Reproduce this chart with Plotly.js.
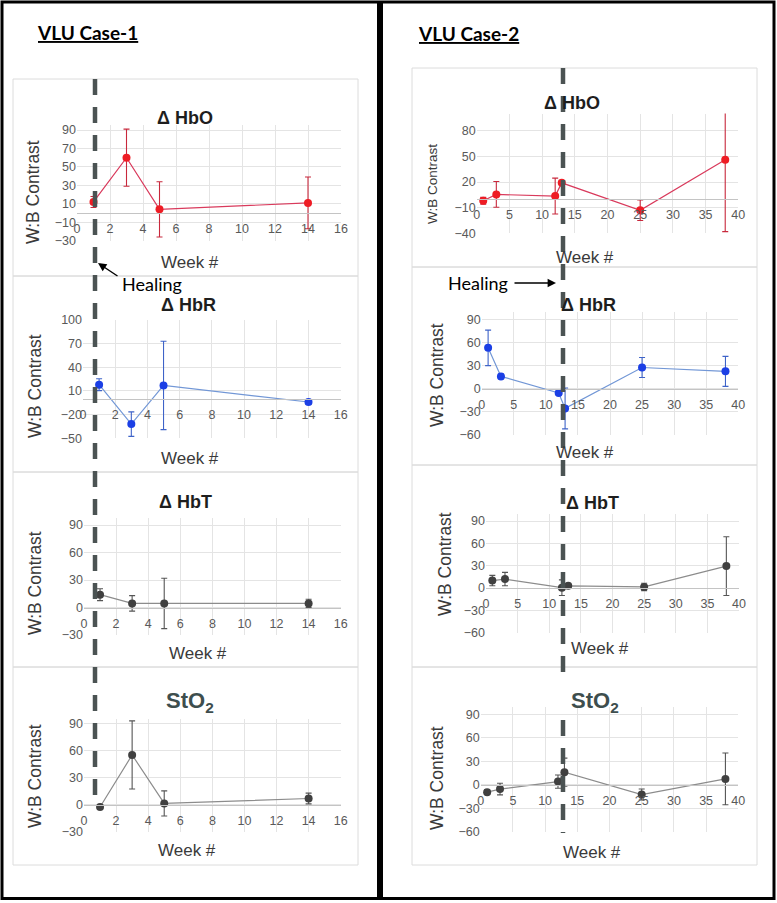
<!DOCTYPE html>
<html>
<head>
<meta charset="utf-8">
<script src="https://cdn.plot.ly/plotly-3.0.1.min.js"></script>
<style>body{margin:0;background:#fff}</style>
</head>
<body>
<div id="plot" style="width:777px;height:903px"></div>
<script>
// VLU case 1 - weeks and W:B contrast (mean, error)
var case1Weeks = [1, 3, 5, 14];
var case1HbO = [12, 60, 4, 11];
var case1HbOErr = [6, 31, 30, 28];
var case1HbR = [18, -32, 17, -4];
var case1HbRErr = [7.5, 15.5, 56, 3];
var case1HbT = [14, 4.5, 4.5, 4.5];
var case1HbTErr = [6.5, 8.5, 27.5, 4.5];
var case1StO2 = [-2.5, 55.5, 1.5, 7];
var case1StO2Err = [0, 38, 14, 6];

// VLU case 2
var case2Weeks = [1, 3, 12, 13, 25, 38];
var case2HbO = [-2, 5.5, 3.5, 19, -13, 46];
var case2HbOErr = [4, 15, 21, 0, 12, 84];
var case2HbR = [53, 16, -5.5, -25.5, 27.5, 22.5];
var case2HbRErr = [23, 3, 0, 26.5, 13, 19.5];
var case2HbT = [10, 12, 0.5, 3, 1.5, 29.5];
var case2HbTErr = [7, 9, 10.5, 0, 5, 39.5];
var case2StO2 = [-9.5, -5.5, 4, 16, -12.5, 7.5];
var case2StO2Err = [3, 7.5, 8.5, 18, 7, 33];

var W = 777, H = 903;
function fx(p) { return p / W; }
function fy(p) { return 1 - p / H; }

var red = {line: '#d93a5c', mark: '#ee1c24', err: '#c8283c'};
var blue = {line: '#7297d6', mark: '#1b3fe5', err: '#3e63c8'};
var grey = {line: '#8c8c8c', mark: '#404040', err: '#555555'};

// plot-area pixels for each panel: x left/right, y bottom/top (at y range ends)
var panels = [
  {wk: case1Weeks, y: case1HbO, e: case1HbOErr, c: red, xp: [77, 341], yp: [240.7, 124.5], xr: [0, 16], yr: [-30, 96], dx: 2, t0: -30, dy: 20,
   title: '<b>\u0394 HbO</b>', tpos: [185, 118], week: [190, 262], ylab: [33, 192], ysz: 17.5},
  {wk: case1Weeks, y: case1HbR, e: case1HbRErr, c: blue, xp: [83, 340.7], yp: [438.3, 320], xr: [0, 16], yr: [-50, 100], dx: 2, t0: -50, dy: 30,
   title: '<b>\u0394 HbR</b>', tpos: [188, 305], week: [190, 458], ylab: [35, 386], ysz: 17.5},
  {wk: case1Weeks, y: case1HbT, e: case1HbTErr, c: grey, xp: [84, 340.7], yp: [635, 517.7], xr: [0, 16], yr: [-30, 98], dx: 2, t0: -30, dy: 30,
   title: '<b>\u0394 HbT</b>', tpos: [185, 502], week: [198, 653], ylab: [35, 583], ysz: 17.5},
  {wk: case1Weeks, y: case1StO2, e: case1StO2Err, c: grey, xp: [84, 340.7], yp: [831.7, 718.6], xr: [0, 16], yr: [-30, 96], dx: 2, t0: -30, dy: 30,
   title: '<b>StO<sub>2</sub></b>', tpos: [190, 702], week: [187, 850], ylab: [35, 776], ysz: 17.5},
  {wk: case2Weeks, y: case2HbO, e: case2HbOErr, c: red, xp: [476.7, 738.3], yp: [233.3, 113.6], xr: [0, 40], yr: [-40, 100], dx: 5, t0: -40, dy: 30,
   title: '<b>\u0394 HbO</b>', tpos: [572, 103], week: [585, 257], ylab: [433, 184], ysz: 13.5},
  {wk: case2Weeks, y: case2HbR, e: case2HbRErr, c: blue, xp: [481.7, 738.3], yp: [435, 311.6], xr: [0, 40], yr: [-60, 100], dx: 5, t0: -60, dy: 30,
   title: '<b>\u0394 HbR</b>', tpos: [588, 305], week: [585, 453], ylab: [437, 375], ysz: 17.5},
  {wk: case2Weeks, y: case2HbT, e: case2HbTErr, c: grey, xp: [486, 739], yp: [632.7, 513.6], xr: [0, 40], yr: [-60, 100], dx: 5, t0: -60, dy: 30,
   title: '<b>\u0394 HbT</b>', tpos: [592, 503], week: [600, 648], ylab: [445, 564], ysz: 17.5},
  {wk: case2Weeks, y: case2StO2, e: case2StO2Err, c: grey, xp: [480.7, 738.3], yp: [831.7, 706.5], xr: [0, 40], yr: [-60, 100], dx: 5, t0: -60, dy: 30,
   title: '<b>StO<sub>2</sub></b>', tpos: [595, 702], week: [592, 852], ylab: [437, 778], ysz: 17.5}
];

var tickFont = {family: 'Liberation Sans, Arial, sans-serif', size: 12.5, color: '#595959'};
var labFont = {family: 'Liberation Sans, Arial, sans-serif', color: '#3a3a3a'};

var data = [];
var layout = {
  width: W, height: H,
  margin: {l: 0, r: 0, t: 0, b: 0},
  paper_bgcolor: '#fff', plot_bgcolor: 'rgba(0,0,0,0)',
  showlegend: false,
  shapes: [], annotations: []
};

var panelBoxes = [[13, 358, 79, 276], [13, 358, 276, 472], [13, 358, 472, 667], [13, 358, 667, 865],
                  [412, 757, 68, 267], [412, 757, 267, 465], [412, 757, 465, 667], [412, 757, 667, 865]];
panelBoxes.forEach(function (b) {
  layout.shapes.push({type: 'rect', xref: 'paper', yref: 'paper', layer: 'below',
    x0: fx(b[0]), x1: fx(b[1]), y0: fy(b[2]), y1: fy(b[3]),
    line: {color: '#dcdcdc', width: 1}});
});

panels.forEach(function (p, i) {
  var n = i === 0 ? '' : String(i + 1);
  var yd = [fy(p.yp[0]), fy(p.yp[1])];
  var zeroPos = yd[0] + (0 - p.yr[0]) / (p.yr[1] - p.yr[0]) * (yd[1] - yd[0]);
  data.push({
    x: p.wk, y: p.y, xaxis: 'x' + n, yaxis: 'y' + n,
    type: 'scatter', mode: 'lines+markers',
    line: {color: p.c.line, width: 1.2},
    marker: {color: p.c.mark, size: 8},
    error_y: {type: 'data', array: p.e, visible: true, color: p.c.err, thickness: 1.1, width: 3}
  });
  layout['xaxis' + n] = {
    domain: [fx(p.xp[0]), fx(p.xp[1])], range: p.xr, anchor: 'free', position: zeroPos,
    tick0: 0, dtick: p.dx, ticks: '', showgrid: true, gridcolor: '#e4e4e4', gridwidth: 1,
    showline: true, linecolor: '#c4c4c4', linewidth: 1, zeroline: false,
    tickfont: tickFont, ticklabelstandoff: 4, fixedrange: true
  };
  layout['yaxis' + n] = {
    domain: yd, range: p.yr, anchor: 'x' + n,
    tick0: p.t0, dtick: p.dy, ticks: '', showgrid: true, gridcolor: '#e4e4e4', gridwidth: 1,
    showline: false, zeroline: false, tickfont: tickFont, fixedrange: true
  };
  var isSt = p.title.indexOf('StO') >= 0;
  layout.annotations.push({text: p.title, xref: 'paper', yref: 'paper', x: fx(p.tpos[0]), y: fy(p.tpos[1]),
    showarrow: false, xanchor: 'center', yanchor: 'middle',
    font: {family: 'Liberation Sans, Arial, sans-serif', size: isSt ? 22 : 18, color: isSt ? '#3e4e4e' : '#1e1e1e'}});
  layout.annotations.push({text: 'Week #', xref: 'paper', yref: 'paper', x: fx(p.week[0]), y: fy(p.week[1]),
    showarrow: false, xanchor: 'center', yanchor: 'middle', font: Object.assign({size: 17}, labFont)});
  layout.annotations.push({text: 'W:B Contrast', xref: 'paper', yref: 'paper', x: fx(p.ylab[0]), y: fy(p.ylab[1]),
    showarrow: false, textangle: -90, xanchor: 'center', yanchor: 'middle', font: Object.assign({size: p.ysz}, labFont)});
});

// healing markers (dashed vertical lines)
var dashLine = {color: '#4b5353', width: 4.5, dash: '16px,12px'};
layout.shapes.push({type: 'line', xref: 'paper', yref: 'paper', layer: 'above',
  x0: fx(95), x1: fx(95), y0: fy(79), y1: fy(807), line: dashLine});
layout.shapes.push({type: 'line', xref: 'paper', yref: 'paper', layer: 'above',
  x0: fx(563), x1: fx(563), y0: fy(68), y1: fy(673), line: dashLine});
layout.shapes.push({type: 'line', xref: 'paper', yref: 'paper', layer: 'above',
  x0: fx(563), x1: fx(563), y0: fy(720), y1: fy(833), line: dashLine});

// outer case frames
layout.shapes.push({type: 'rect', xref: 'paper', yref: 'paper', x0: fx(2), x1: fx(378.5), y0: fy(2), y1: fy(898.5),
  line: {color: '#000', width: 3}});
layout.shapes.push({type: 'rect', xref: 'paper', yref: 'paper', x0: fx(381.5), x1: fx(774), y0: fy(2), y1: fy(898.5),
  line: {color: '#000', width: 3}});

var headFont = {family: 'Lato, Liberation Sans, sans-serif', size: 19, color: '#000'};
layout.annotations.push({text: '<b><u>VLU Case-1</u></b>', xref: 'paper', yref: 'paper', x: fx(87), y: fy(32),
  showarrow: false, xanchor: 'center', yanchor: 'middle', font: headFont});
layout.annotations.push({text: '<b><u>VLU Case-2</u></b>', xref: 'paper', yref: 'paper', x: fx(468), y: fy(33),
  showarrow: false, xanchor: 'center', yanchor: 'middle', font: headFont});

var healFont = {family: 'Lato, Liberation Sans, sans-serif', size: 18, color: '#000'};
layout.annotations.push({text: 'Healing', xref: 'paper', yref: 'paper', x: fx(152), y: fy(284),
  showarrow: false, xanchor: 'center', yanchor: 'middle', font: healFont});
layout.annotations.push({text: 'Healing', xref: 'paper', yref: 'paper', x: fx(478), y: fy(283),
  showarrow: false, xanchor: 'center', yanchor: 'middle', font: healFont});
layout.annotations.push({text: '', xref: 'paper', yref: 'paper', x: fx(98), y: fy(263),
  showarrow: true, ax: 21, ay: 14, arrowhead: 2, arrowsize: 1.2, arrowwidth: 1.4, arrowcolor: '#000'});
layout.annotations.push({text: '', xref: 'paper', yref: 'paper', x: fx(556), y: fy(283),
  showarrow: true, ax: -43, ay: 0, arrowhead: 2, arrowsize: 1.2, arrowwidth: 1.4, arrowcolor: '#000'});

Plotly.newPlot('plot', data, layout, {staticPlot: true});
</script>
</body>
</html>
